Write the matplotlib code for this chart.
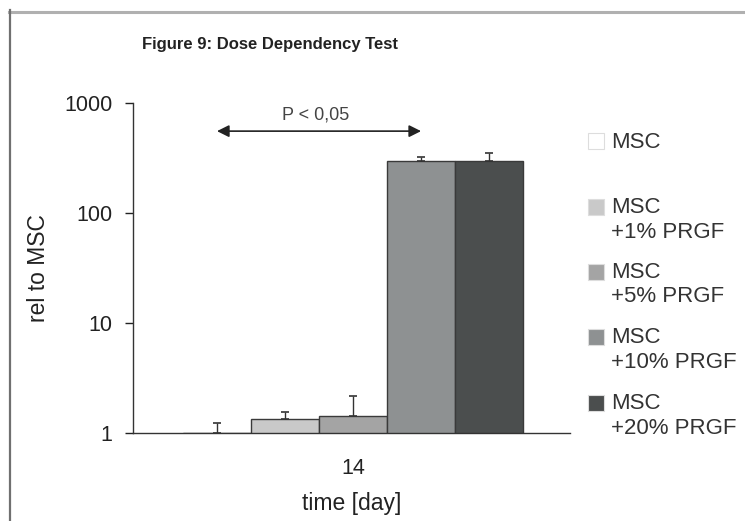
import matplotlib.pyplot as plt
from matplotlib.lines import Line2D
from matplotlib.patches import Rectangle

plt.rcParams['font.family'] = ['Liberation Sans', 'DejaVu Sans']

# data: expression relative to MSC at day 14
groups = ['MSC', 'MSC\n+1% PRGF', 'MSC\n+5% PRGF', 'MSC\n+10% PRGF', 'MSC\n+20% PRGF']
values = [1.0, 1.34, 1.43, 297, 297]
errors = [0.23, 0.21, 0.74, 26, 54]
colors = ['#ffffff', '#c9c9c9', '#a4a4a4', '#8e9192', '#4b4e4e']
day_label = '14'
y_ticks = [1, 10, 100, 1000]

W, H = 745, 521
fig = plt.figure(figsize=(W / 100, H / 100), dpi=100)
ax = fig.add_axes([133 / W, 1 - 433 / H, 437 / W, 330 / H])

x = list(range(len(values)))
ax.bar(x, values, width=1.0, color=colors, edgecolor='#3a3a3a', linewidth=1.0)
ax.errorbar(x, values, yerr=[[0] * len(errors), errors], fmt='none',
            ecolor='#333333', elinewidth=1.0, capsize=3, capthick=1.2)

ax.set_yscale('log')
ax.set_ylim(1, 1000)
ax.set_xlim(-1.235, 5.19)
ax.set_yticks(y_ticks)
ax.set_yticklabels([str(t) for t in y_ticks])
ax.minorticks_off()
ax.set_xticks([2])
ax.set_xticklabels([day_label])
ax.tick_params(axis='x', length=0, pad=18, labelsize=15.5, colors='#222222')
ax.tick_params(axis='y', length=6, width=1, direction='out', pad=9,
               labelsize=15.5, colors='#222222')
for s in ['top', 'right']:
    ax.spines[s].set_visible(False)
for s in ['left', 'bottom']:
    ax.spines[s].set_color('#333333')
    ax.spines[s].set_linewidth(1.0)

ax.set_xlabel('time [day]', fontsize=16.5, color='#222222', va='top')
ax.xaxis.set_label_coords(0.5, -0.18)
ax.set_ylabel('rel to MSC', fontsize=16.5, color='#222222')
ax.yaxis.set_label_coords(-0.19, 0.5)

# significance arrow between MSC and the +10% group
ax.annotate('', xy=(3.0, 555), xytext=(0.0, 555),
            arrowprops=dict(arrowstyle='<|-|>', color='#222222', lw=1.2,
                            mutation_scale=18, shrinkA=0, shrinkB=0))
ax.text(1.45, 780, 'P < 0,05', ha='center', va='center', fontsize=13, color='#444444')

fig.text(270 / W, 1 - 45 / H, 'Figure 9: Dose Dependency Test', ha='center', va='center',
         fontsize=12, fontweight='bold', color='#222222')

# legend drawn by hand so the swatch sits next to the first line
sw_y = [141, 207, 272, 337, 403]
pitch = 23
for lab, col, yy in zip(groups, colors, sw_y):
    fig.patches.append(Rectangle((588 / W, 1 - (yy + 8) / H), 16 / W, 16 / H,
                                 transform=fig.transFigure, facecolor=col,
                                 edgecolor='#dddddd', linewidth=0.8))
    n = lab.count('\n')
    fig.text(611 / W, 1 - (yy + 7.5 + pitch * n) / H, lab, ha='left', va='baseline',
             fontsize=16, color='#333333', linespacing=1.19)

# outer frame
fig.add_artist(Line2D([9 / W, 1], [1 - 11.5 / H, 1 - 11.5 / H],
                      transform=fig.transFigure, color='#b0b0b0', lw=2.2))
fig.add_artist(Line2D([9.5 / W, 9.5 / W], [0, 1 - 10 / H],
                      transform=fig.transFigure, color='#707070', lw=1.6))

fig.savefig('out.png', dpi=100)
